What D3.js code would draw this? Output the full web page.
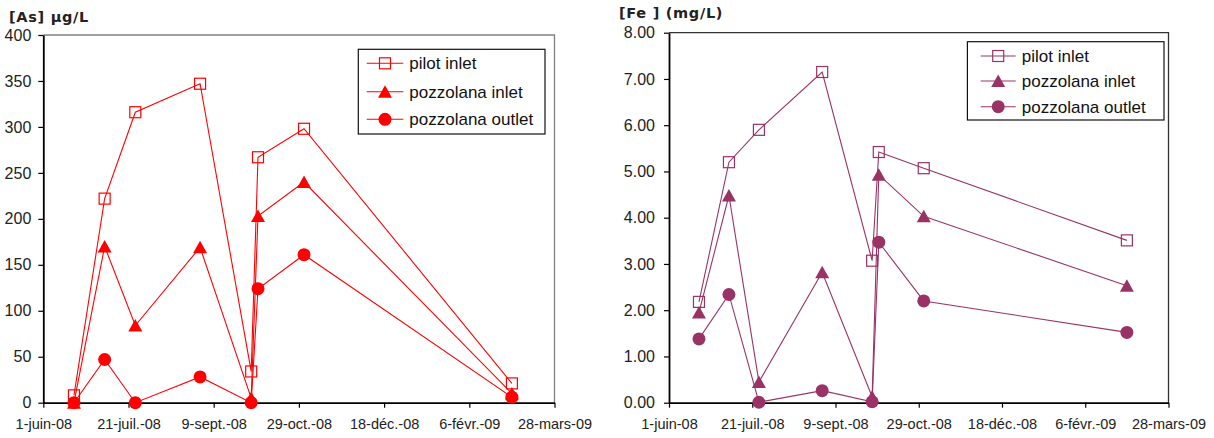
<!DOCTYPE html>
<html>
<head>
<meta charset="utf-8">
<script src="https://cdn.jsdelivr.net/npm/d3@7"></script>
<style>
html,body{margin:0;padding:0;background:#fff;}
svg{display:block;}
</style>
</head>
<body>
<svg id="chart" width="1214" height="438"></svg>
<script>
// ---------- data ----------
const sampleDates = ["2008-06-19","2008-07-07","2008-07-25","2008-09-01","2008-10-01","2008-10-05","2008-11-01","2009-03-03"];
const seriesNames = ["pilot inlet","pozzolana inlet","pozzolana outlet"];
const asPilotInlet    = [8, 222, 316, 347, 34, 267, 298, 21];
const asPozzInlet     = [0, 170, 84, 169, 5, 203, 240, 10];
const asPozzOutlet    = [0, 47, 0, 28, 0, 124, 161, 6];
const fePilotInlet    = [2.18, 5.20, 5.90, 7.15, 3.07, 5.42, 5.07, 3.51];
const fePozzInlet     = [1.95, 4.48, 0.45, 2.82, 0.13, 4.93, 4.03, 2.53];
const fePozzOutlet    = [1.38, 2.34, 0.01, 0.26, 0.02, 3.47, 2.20, 1.52];
const xTickDates  = ["2008-06-01","2008-07-21","2008-09-09","2008-10-29","2008-12-18","2009-02-06","2009-03-28"];
const xTickLabels = ["1-juin-08","21-juil.-08","9-sept.-08","29-oct.-08","18-déc.-08","6-févr.-09","28-mars-09"];
const asTicks = [0,50,100,150,200,250,300,350,400];
const asTickLabels = ["0","50","100","150","200","250","300","350","400"];
const feTicks = [0,1,2,3,4,5,6,7,8];
const feTickLabels = ["0.00","1.00","2.00","3.00","4.00","5.00","6.00","7.00","8.00"];

const parse = d3.utcParse("%Y-%m-%d");
const svg = d3.select("#chart");
const FONT = "'Liberation Sans', Arial, sans-serif";

function drawChart(cfg){
  const x = d3.scaleUtc().domain([parse(xTickDates[0]), parse(xTickDates[xTickDates.length-1])]).range([cfg.x0, cfg.x1]);
  const y = d3.scaleLinear().domain([cfg.ticks[0], cfg.ticks[cfg.ticks.length-1]]).range([cfg.yb, cfg.yt]);
  const g = svg.append("g");

  // frame (top/right)
  g.append("path")
    .attr("d", `M${cfg.x0},${cfg.yt}H${cfg.x1}V${cfg.yb}`)
    .attr("fill","none").attr("stroke",cfg.frame).attr("stroke-width",1.3);

  // x axis
  const xa = g.append("g").attr("transform",`translate(0,${cfg.yb})`)
    .call(d3.axisBottom(x).tickValues(xTickDates.map(parse)).tickFormat((d,i)=>xTickLabels[i]).tickSize(5).tickSizeOuter(0).tickPadding(11));
  xa.select(".domain").attr("stroke","#000").attr("stroke-width",1.8);
  xa.selectAll(".tick line").attr("stroke","#000").attr("stroke-width",1.2);
  xa.selectAll("text").attr("font-family",FONT).attr("font-size","14.5px").attr("fill","#222");

  // y axis
  const ya = g.append("g").attr("transform",`translate(${cfg.x0},0)`)
    .call(d3.axisLeft(y).tickValues(cfg.ticks).tickFormat((d,i)=>cfg.tickLabels[i]).tickSize(5).tickSizeOuter(0).tickPadding(cfg.ypad));
  ya.select(".domain").attr("stroke","#000").attr("stroke-width",1.8);
  ya.selectAll(".tick line").attr("stroke","#000").attr("stroke-width",1.2);
  ya.selectAll("text").attr("font-family",FONT).attr("font-size","16px").attr("fill","#222");

  // title
  svg.append("text").attr("x",cfg.titleX).attr("y",cfg.titleY)
    .attr("font-family","'DejaVu Sans', sans-serif").attr("font-weight","bold")
    .attr("font-size","14.5px").attr("letter-spacing","0.7px").attr("fill","#222").text(cfg.title);

  const col = cfg.color;
  const line = d3.line().x((d,i)=>x(parse(sampleDates[i]))).y(d=>y(d));
  const markerFns = [
    (sel)=>sel.append("rect").attr("x",-5.5).attr("y",-5.5).attr("width",11).attr("height",11).attr("fill","none").attr("stroke",col).attr("stroke-width",1.2),
    (sel)=>sel.append("path").attr("d","M0,-6.5L7,6L-7,6Z").attr("fill",col),
    (sel)=>sel.append("circle").attr("r",6.5).attr("fill",col)
  ];
  cfg.series.forEach((vals,si)=>{
    g.append("path").datum(vals).attr("d",line).attr("fill","none").attr("stroke",col).attr("stroke-width",1.1);
    vals.forEach((v,i)=>{
      const m = g.append("g").attr("transform",`translate(${x(parse(sampleDates[i]))},${y(v)})`);
      markerFns[si](m);
    });
  });

  // legend
  const L = cfg.legend;
  g.append("rect").attr("x",L.x0).attr("y",L.y0).attr("width",L.x1-L.x0).attr("height",L.y1-L.y0)
    .attr("fill","#fff").attr("stroke","#111").attr("stroke-width",1.2);
  seriesNames.forEach((name,si)=>{
    const ry = L.rows[si];
    g.append("line").attr("x1",L.lx0).attr("x2",L.lx1).attr("y1",ry).attr("y2",ry).attr("stroke",col).attr("stroke-width",1.1);
    const m = g.append("g").attr("transform",`translate(${(L.lx0+L.lx1)/2},${ry})`);
    markerFns[si](m);
    g.append("text").attr("x",L.tx).attr("y",ry).attr("dy","0.36em")
      .attr("font-family",FONT).attr("font-size","17px").attr("fill","#111").text(name);
  });
}

drawChart({
  x0:43.3, x1:554.5, yt:35, yb:402.7,
  ticks:asTicks, tickLabels:asTickLabels, ypad:7,
  color:"#FF0000", frame:"#808080",
  title:"[As] µg/L", titleX:9, titleY:22,
  series:[asPilotInlet, asPozzInlet, asPozzOutlet],
  legend:{x0:358.3, x1:545, y0:49.3, y1:134, rows:[63.3,91.7,119.3], lx0:366.7, lx1:403.3, tx:409.3}
});
drawChart({
  x0:669, x1:1168.5, yt:32.7, yb:402.7,
  ticks:feTicks, tickLabels:feTickLabels, ypad:9,
  color:"#993366", frame:"#333333",
  title:"[Fe ] (mg/L)", titleX:619, titleY:18,
  series:[fePilotInlet, fePozzInlet, fePozzOutlet],
  legend:{x0:967.4, x1:1164, y0:41.7, y1:120, rows:[56,81,106.7], lx0:980.7, lx1:1015.7, tx:1021.8}
});
</script>
</body>
</html>
